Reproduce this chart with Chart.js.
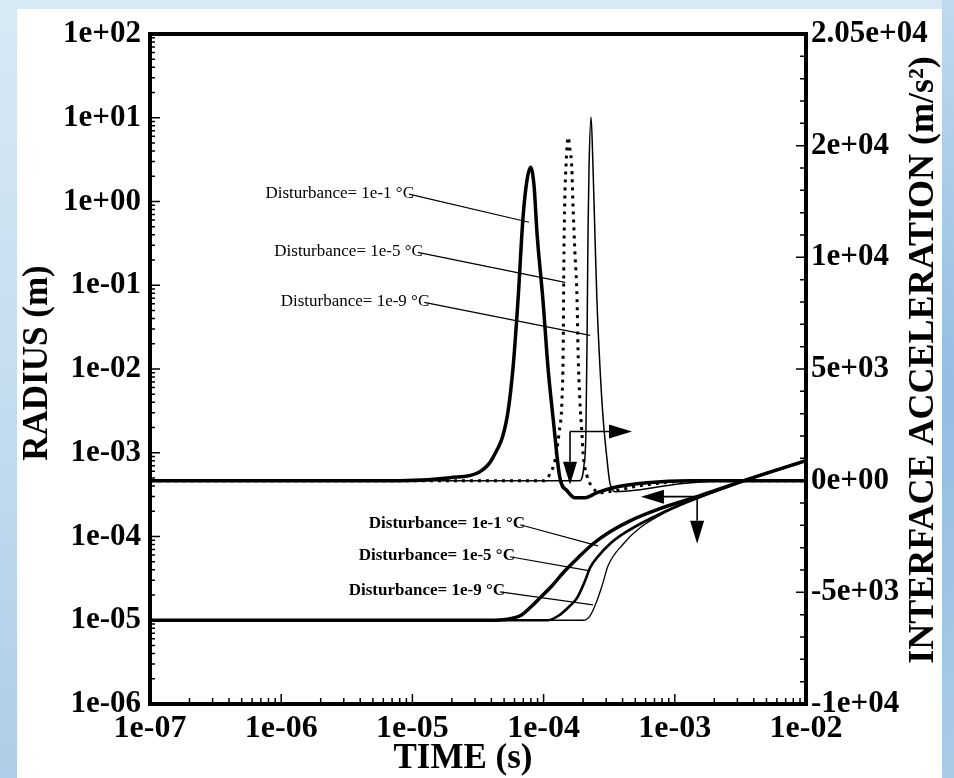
<!DOCTYPE html>
<html>
<head>
<meta charset="utf-8">
<script src="https://cdn.jsdelivr.net/npm/chart.js@4.4.0/dist/chart.umd.min.js"></script>
<style>
  html, body { margin:0; padding:0; }
  body { width:954px; height:778px; overflow:hidden; position:relative;
    background: linear-gradient(to bottom, #d8e9f5 0%, #c2dbee 55%, #aecde8 100%); }
  #panel { position:absolute; left:17px; top:9px; width:925px; height:769px; background:#fff; }
  #edge { position:absolute; left:942px; top:0; width:12px; height:778px;
    background: linear-gradient(to bottom, #bdd9ef 0%, #93bde2 50%, #a9cbe8 100%); }
  #chart { position:absolute; left:0; top:0; }
</style>
</head>
<body>
<div id="panel"></div>
<div id="edge"></div>
<canvas id="chart" width="954" height="778"></canvas>
<script>
// ----- axis ticks -----
const timeTicks = [1e-7, 1e-6, 1e-5, 1e-4, 1e-3, 1e-2];
const timeTickLabels = ['1e-07', '1e-06', '1e-05', '1e-04', '1e-03', '1e-02'];
const radiusTicks = [1e-6, 1e-5, 1e-4, 1e-3, 1e-2, 1e-1, 1e0, 1e1, 1e2];
const radiusTickLabels = ['1e-06', '1e-05', '1e-04', '1e-03', '1e-02', '1e-01', '1e+00', '1e+01', '1e+02'];
const accTicks = [-1e4, -5e3, 0, 5e3, 1e4, 2e4, 2.05e4];
const accTickLabels = ['-1e+04', '-5e+03', '0e+00', '5e+03', '1e+04', '2e+04', '2.05e+04'];

// ----- interface acceleration (m/s2) vs time (s) -----
const accTime1 = [1e-7, 8e-6, 1.94e-5, 3.27e-5, 4.11e-5, 5.26e-5, 5.85e-5, 6.38e-5, 6.97e-5, 7.47e-5, 7.94e-5, 8.45e-5, 8.91e-5, 9.89e-5, 1.08e-4, 1.18e-4, 1.33e-4, 1.51e-4, 1.73e-4, 2.07e-4, 2.55e-4, 3.38e-4, 6.14e-4, 1.31e-3, 1e-2];
const acc1 = [0, 0, 135, 404, 1031, 2825, 5067, 8070, 13590, 16900, 18070, 16460, 12150, 8070, 5067, 2825, 135, -450, -762, -762, -538, -314, -90, 0, 0];
const accTime2 = [1e-7, 1.0e-4, 1.12e-4, 1.22e-4, 1.31e-4, 1.38e-4, 1.41e-4, 1.43e-4, 1.45e-4, 1.48e-4, 1.54e-4, 1.59e-4, 1.64e-4, 1.67e-4, 1.73e-4, 1.80e-4, 1.83e-4, 1.89e-4, 1.96e-4, 2.00e-4, 2.14e-4, 2.34e-4, 2.69e-4, 3.50e-4, 5.43e-4, 1.56e-3, 1e-2];
const acc2 = [0, 0, 314, 897, 2108, 3587, 5830, 10630, 15110, 18070, 20038, 19600, 18070, 15110, 10630, 8070, 5830, 3587, 2108, 1210, 224, -269, -538, -450, -224, 0, 0];
const accTime3 = [1e-7, 1.89e-4, 2.03e-4, 2.10e-4, 2.14e-4, 2.18e-4, 2.22e-4, 2.30e-4, 2.38e-4, 2.46e-4, 2.55e-4, 2.69e-4, 2.84e-4, 3.05e-4, 3.21e-4, 3.56e-4, 5.43e-4, 1.10e-3, 2.64e-3, 1e-2];
const acc3 = [0, 0, 673, 2108, 5830, 12150, 18070, 20128, 18070, 12150, 8070, 5067, 2825, 897, -135, -494, -404, -135, 0, 0];

// ----- bubble radius (m) vs time (s) -----
const rTime1 = [1e-7, 4.0e-5, 5.08e-5, 6.61e-5, 7.87e-5, 9.39e-5, 1.16e-4, 1.41e-4, 1.83e-4, 2.38e-4, 3.21e-4, 4.56e-4, 7.71e-4, 1.56e-3, 3.74e-3, 1e-2];
const r1 = [1e-5, 1e-5, 1.02e-5, 1.13e-5, 1.41e-5, 1.85e-5, 2.58e-5, 3.69e-5, 5.57e-5, 8.19e-5, 1.14e-4, 1.54e-4, 2.15e-4, 3.07e-4, 4.91e-4, 8.05e-4];
const rTime2 = [1e-7, 1.08e-4, 1.33e-4, 1.59e-4, 1.80e-4, 2.07e-4, 2.26e-4, 2.55e-4, 3.21e-4, 4.17e-4, 6.47e-4, 1.10e-3, 1.56e-3, 3.74e-3, 1e-2];
const r2 = [1e-5, 1e-5, 1.16e-5, 1.49e-5, 1.85e-5, 2.96e-5, 4.23e-5, 5.57e-5, 8.19e-5, 1.11e-4, 1.63e-4, 2.40e-4, 3.00e-4, 4.91e-4, 8.05e-4];
const rTime3 = [1e-7, 2.0e-4, 2.26e-4, 2.55e-4, 2.79e-4, 3.10e-4, 4.06e-4, 5.43e-4, 8.13e-4, 1.31e-3, 3.74e-3, 1e-2];
const r3 = [1e-5, 1e-5, 1.13e-5, 1.71e-5, 2.58e-5, 4.47e-5, 8.19e-5, 1.27e-4, 1.87e-4, 2.61e-4, 4.80e-4, 8.05e-4];

// ----- labels with leader lines: [time, radius] anchors -----
const upperNotes = [
  { text: 'Disturbance= 1e-1 °C', from: [1.01e-5, 1.26], to: [7.74e-5, 0.565] },
  { text: 'Disturbance= 1e-5 °C', from: [1.18e-5, 0.254], to: [1.46e-4, 0.108] },
  { text: 'Disturbance= 1e-9 °C', from: [1.32e-5, 0.0641], to: [2.26e-4, 0.0252] }
];
const lowerNotes = [
  { text: 'Disturbance= 1e-1 °C', from: [7.10e-5, 1.42e-4], to: [2.60e-4, 7.74e-5] },
  { text: 'Disturbance= 1e-5 °C', from: [5.94e-5, 5.89e-5], to: [2.26e-4, 3.89e-5] },
  { text: 'Disturbance= 1e-9 °C', from: [4.99e-5, 2.24e-5], to: [2.38e-4, 1.53e-5] }
];
// axis-pointer arrows: corner, horizontal tip, vertical tip
const accArrow = { corner: [1.59e-4, 1.79e-3], side: [4.72e-4, 1.79e-3], down: [1.59e-4, 4.16e-4] };
const radArrow = { corner: [1.48e-3, 2.99e-4], side: [5.52e-4, 2.99e-4], down: [1.48e-3, 8.19e-5] };

// right axis ticks are evenly spaced but not linear in value: map piecewise
function accPos(v){
  for(let i=0;i<accTicks.length-1;i++){
    if(v <= accTicks[i+1]) return i + (v-accTicks[i])/(accTicks[i+1]-accTicks[i]);
  }
  return accTicks.length-1;
}
function pts(xs, ys){ return xs.map((x,i)=>({x, y: ys[i]})); }

const SERIF = '"Liberation Serif", "Times New Roman", serif';

function line(data, axis, width, dash){
  return { data, yAxisID: axis, borderColor:'#000', borderWidth: width, borderDash: dash || [],
    pointRadius:0, fill:false, cubicInterpolationMode:'monotone' };
}

function arrow(ctx, x0, y0, x1, y1){
  const a = Math.atan2(y1-y0, x1-x0), L = 23, W = 7;
  const c = Math.cos(a), s = Math.sin(a);
  ctx.beginPath(); ctx.moveTo(x0,y0); ctx.lineTo(x1-L*c, y1-L*s); ctx.stroke();
  ctx.beginPath();
  ctx.moveTo(x1,y1);
  ctx.lineTo(x1-L*c - W*s, y1-L*s + W*c);
  ctx.lineTo(x1-L*c + W*s, y1-L*s - W*c);
  ctx.closePath(); ctx.fill();
}

const decor = {
  id: 'decor',
  afterDraw(chart){
    const {ctx, chartArea: a, scales: {x, y, y2}} = chart;
    const P = p => [x.getPixelForValue(p[0]), y.getPixelForValue(p[1])];
    ctx.save();
    ctx.strokeStyle = '#000'; ctx.fillStyle = '#000';

    // inward ticks
    ctx.lineWidth = 1.5;
    ctx.beginPath();
    for(let d=-7; d<-2; d++) for(let m=1; m<10; m++){
      const px = x.getPixelForValue(m*Math.pow(10,d));
      ctx.moveTo(px, a.bottom); ctx.lineTo(px, a.bottom-(m===1?10:6));
    }
    for(let d=-6; d<2; d++) for(let m=1; m<10; m++){
      const py = y.getPixelForValue(m*Math.pow(10,d));
      ctx.moveTo(a.left, py); ctx.lineTo(a.left+(m===1?10:5), py);
    }
    for(let i=0; i<6; i++) for(let j=0; j<5; j++){
      const py = y2.getPixelForValue(i+j/5);
      ctx.moveTo(a.right, py); ctx.lineTo(a.right-(j===0?10:6), py);
    }
    ctx.stroke();

    // frame
    ctx.lineWidth = 4;
    ctx.strokeRect(a.left, a.top, a.right-a.left, a.bottom-a.top);

    // labels + leaders
    ctx.textAlign = 'right'; ctx.textBaseline = 'middle';
    const note = (n, font) => {
      const [fx, fy] = P(n.from), [tx, ty] = P(n.to);
      ctx.font = font;
      ctx.fillText(n.text, fx+1, fy);
      ctx.lineWidth = 1.2;
      ctx.beginPath(); ctx.moveTo(fx-4, fy+1); ctx.lineTo(tx, ty); ctx.stroke();
    };
    upperNotes.forEach(n => note(n, '17px ' + SERIF));
    lowerNotes.forEach(n => note(n, 'bold 17px ' + SERIF));

    // arrows
    ctx.lineWidth = 1.6;
    [accArrow, radArrow].forEach(ar => {
      const [cx, cy] = P(ar.corner), [sx, sy] = P(ar.side), [dx, dy] = P(ar.down);
      arrow(ctx, cx, cy, sx, sy);
      arrow(ctx, cx, cy, dx, dy);
    });

    // axis titles
    ctx.textAlign = 'center'; ctx.textBaseline = 'middle';
    ctx.font = 'bold 35px ' + SERIF;
    ctx.fillText('TIME (s)', 463, 759);
    ctx.save(); ctx.translate(38, 363); ctx.rotate(-Math.PI/2);
    ctx.fillText('RADIUS (m)', 0, 0); ctx.restore();
    ctx.save(); ctx.translate(924, 360); ctx.rotate(-Math.PI/2);
    ctx.font = 'bold 36px ' + SERIF;
    ctx.fillText('INTERFACE ACCELERATION (m/s²)', 0, 0); ctx.restore();
    ctx.restore();
  }
};

const leftFont = { family: SERIF, size: 31, weight: 'bold' };
const bottomFont = { family: SERIF, size: 32, weight: 'bold' };
const rightFont = { family: SERIF, size: 31, weight: 'bold' };

new Chart(document.getElementById('chart'), {
  type: 'line',
  data: {
    datasets: [
      line(pts(accTime1, acc1.map(accPos)), 'y2', 3.5),
      line(pts(accTime2, acc2.map(accPos)), 'y2', 3, [3,5]),
      line(pts(accTime3, acc3.map(accPos)), 'y2', 1.5),
      line(pts(rTime1, r1), 'y', 3.5),
      line(pts(rTime2, r2), 'y', 2.6),
      line(pts(rTime3, r3), 'y', 1.3)
    ]
  },
  options: {
    responsive: false,
    animation: false,
    devicePixelRatio: 1,
    layout: { padding: { top: 34, left: 0, right: 0, bottom: 0 } },
    plugins: { legend: { display:false }, tooltip: { enabled:false } },
    scales: {
      x: {
        type: 'logarithmic', position: 'bottom', min: 1e-7, max: 1e-2,
        afterBuildTicks: s => { s.ticks = timeTicks.map(v => ({ value: v })); },
        afterFit: s => { s.height = 74; },
        ticks: { callback: (v, i) => timeTickLabels[i], font: bottomFont, color: '#000', padding: 6, maxRotation: 0, autoSkip: false },
        grid: { display: false, drawTicks: false }, border: { display: false }
      },
      y: {
        type: 'logarithmic', position: 'left', min: 1e-6, max: 1e2,
        afterBuildTicks: s => { s.ticks = radiusTicks.map(v => ({ value: v })); },
        afterFit: s => { s.width = 150; },
        ticks: { callback: (v, i) => radiusTickLabels[i], font: leftFont, color: '#000', padding: 9, autoSkip: false },
        grid: { display: false, drawTicks: false }, border: { display: false }
      },
      y2: {
        type: 'linear', position: 'right', min: 0, max: accTicks.length - 1,
        afterBuildTicks: s => { s.ticks = accTicks.map((v, i) => ({ value: i })); },
        afterFit: s => { s.width = 148; },
        ticks: { callback: (v, i) => accTickLabels[i], font: rightFont, color: '#000', padding: 5, autoSkip: false },
        grid: { display: false, drawTicks: false }, border: { display: false }
      }
    }
  },
  plugins: [decor]
});
</script>
</body>
</html>
